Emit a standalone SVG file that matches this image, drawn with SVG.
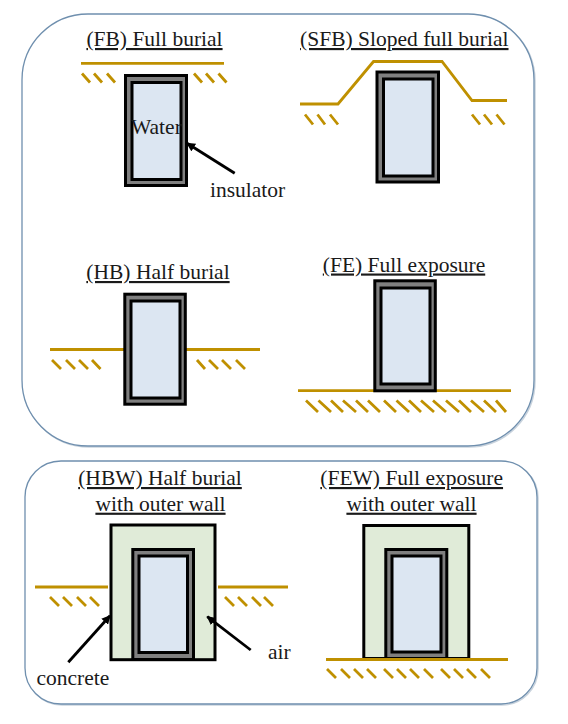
<svg xmlns="http://www.w3.org/2000/svg" width="568" height="724" viewBox="0 0 568 724">
<style>
text{font-family:"Liberation Serif","Times New Roman",serif;fill:#1a1a1a}
.t{font-size:21.500px;text-anchor:middle;text-decoration:underline}
.l{font-size:21.500px}
.panel{fill:#fff;stroke:#6f8fae;stroke-width:1.3}
.shadow{fill:none;stroke:#c9d3dd;stroke-width:1.5}
.ins{fill:#7f7f7f;stroke:#000;stroke-width:3}
.water{fill:#dce6f2;stroke:#000;stroke-width:3}
.wall{fill:#e0ebd8;stroke:#000;stroke-width:3}
.g{fill:none;stroke:#bf9000;stroke-width:2.800}
.h{fill:none;stroke:#bf9000;stroke-width:2.800}
.a{stroke:#000;stroke-width:2.800;fill:none;marker-end:url(#ah)}
</style>
<defs><marker id="ah" markerUnits="userSpaceOnUse" markerWidth="9" markerHeight="9" refX="8" refY="4.500" orient="auto"><path d="M0 0L9 4.500L0 9z" fill="#000"/></marker></defs>
<rect width="568" height="724" fill="#fff"/>
<g id="panel-top"><rect class="shadow" x="23" y="15" width="512" height="432" rx="66"/><rect class="panel" x="22" y="14" width="512" height="432" rx="66"/></g>
<g id="panel-bottom"><rect class="shadow" x="26" y="462" width="512" height="243" rx="36"/><rect class="panel" x="25" y="461" width="512" height="243" rx="36"/></g>
<g id="FB">
<text class="t" x="154.500" y="46">(FB) Full burial</text>
<path class="g" d="M81 63.300H224"/>
<path class="h" d="M82 73.500L90 82.500M94 73.500L102 82.500M107 73.500L115 82.500M194 73.500L202 82.500M206 73.500L214 82.500M218.500 73.500L226.500 82.500"/>
<rect class="ins" x="125.500" y="75.500" width="61" height="110"/>
<rect class="water" x="132" y="82.500" width="49" height="97"/>
<text class="l" x="131" y="134">Water</text>
</g>
<g id="SFB">
<text class="t" x="404.300" y="46">(SFB) Sloped full burial</text>
<path class="g" d="M300 104H338L373.500 61.500H442L472 100.500H507"/>
<path class="h" d="M305 114.500L313 124.500M317.500 114.500L325 124.500M330 114.500L338 124.500M472 114.500L480 124.500M484 114.500L492 124.500M496.500 114.500L504.500 124.500"/>
<rect class="ins" x="377" y="72" width="61.500" height="110"/>
<rect class="water" x="383.500" y="79" width="49.500" height="97"/>
</g>
<g id="HB">
<text class="t" x="158" y="279">(HB) Half burial</text>
<path class="g" d="M50 349.500H124M186 349.500H260"/>
<path class="h" d="M52 360L61 369M66 360L75 369M79 360L88 369M92 360L100.500 369M197 360L205 369M209 360L218 369M222 360L231 369M236 360L245 369"/>
<rect class="ins" x="124.800" y="294.200" width="60.500" height="110"/>
<rect class="water" x="131" y="301" width="49" height="97"/>
</g>
<g id="FE">
<text class="t" x="404" y="271.500">(FE) Full exposure</text>
<path class="g" d="M298 390.700H511"/>
<path class="h" d="M306 400.500L318 412M318.500 400.500L331 412M331 400.500L343 412M343 400.500L356 412M356 400.500L368 412M368 400.500L380 412M384 400.500L396 412M396.500 400.500L409 412M409 400.500L421 412M421 400.500L434 412M433 400.500L446 412M446 400.500L459 412M459 400.500L471 412M471 400.500L484 412M484 400.500L496 412M496 400.500L506 412"/>
<rect class="ins" x="374.800" y="280.800" width="60.500" height="110"/>
<rect class="water" x="381" y="288" width="49" height="96"/>
</g>
<g id="HBW">
<text class="t" x="160" y="485">(HBW) Half burial</text>
<text class="t" x="160.500" y="510.700">with outer wall</text>
<path class="g" d="M35 587H108M218 587H288"/>
<path class="h" d="M50 597L59 606M63 597L72 606M77 597L86 606M90 597L99 606M225 597L234 606M238 597L247 606M252 597L261 606M264 597L273 606"/>
<rect class="wall" x="111" y="525" width="104" height="134.700"/>
<rect class="ins" x="132.800" y="549.500" width="60.700" height="110"/>
<rect class="water" x="139" y="556" width="48.500" height="96.500"/>
<text class="l" x="36.500" y="685">concrete</text>
<text class="l" x="268" y="659">air</text>
</g>
<g id="FEW">
<text class="t" x="411.700" y="485">(FEW) Full exposure</text>
<text class="t" x="411.500" y="510.700">with outer wall</text>
<rect class="wall" x="363.800" y="525.500" width="105" height="133"/>
<rect class="ins" x="385.800" y="549.500" width="61" height="109"/>
<rect class="water" x="392" y="556" width="49" height="96"/>
<path class="g" d="M326 659.500H508"/>
<path class="h" d="M327 669L336 678M341 669L350 678M354 669L363 678M367 669L376 678M384 669L393 678M397 669L406 678M410 669L419 678M424 669L433 678M441 669L450 678M454 669L463 678M467 669L476 678M481 669L490 678"/>
</g>
<g id="connectors">
<path class="a" d="M234.700 173.300L187 143.300"/>
<path class="a" d="M68.300 662.300L110 615.700"/>
<path class="a" d="M250.700 650L207.300 616.700"/>
</g>
<text class="l" x="210" y="197.300">insulator</text>
</svg>
